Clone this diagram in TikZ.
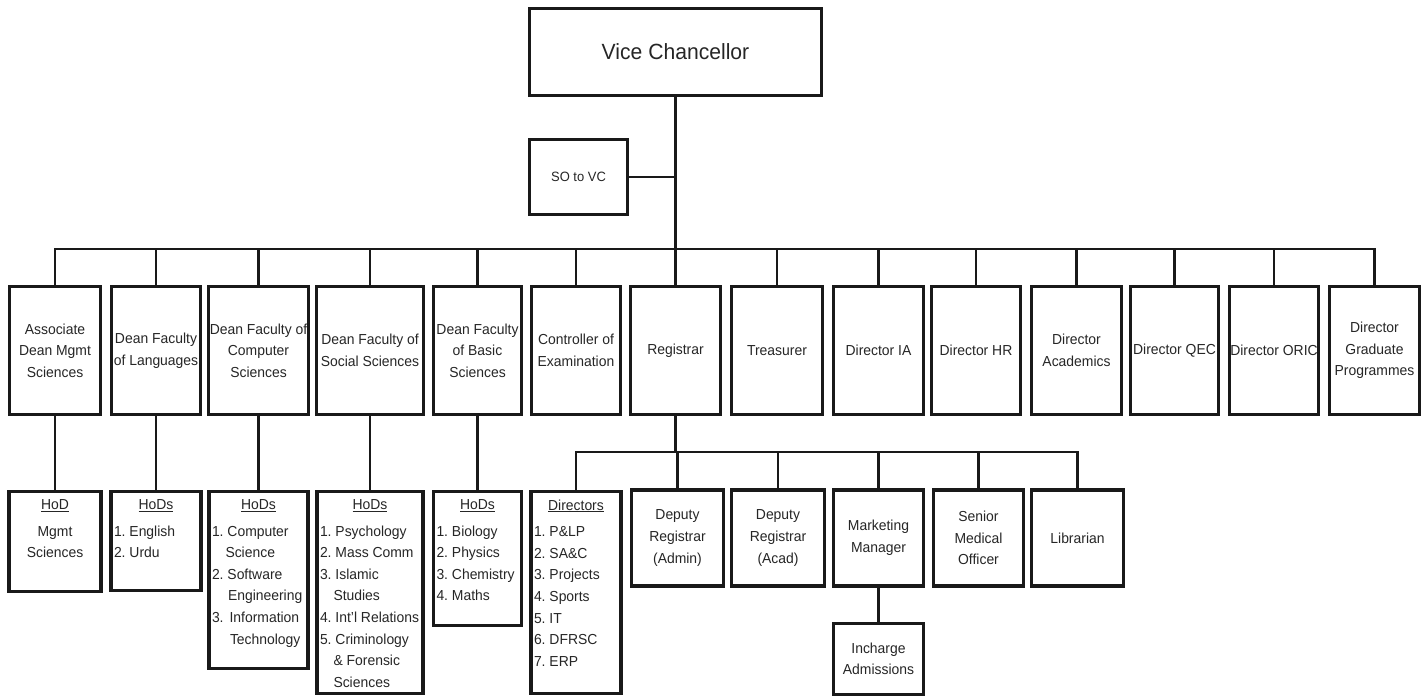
\documentclass[tikz,border=0pt]{standalone}
\usepackage{fontspec}
\setmainfont{Liberation Sans}[FakeStretch=0.96]
\frenchspacing
\newcommand\hdr[1]{{\centering\underline{#1}\par}\vspace{5pt}}
\newcommand\tbx[3]{\parbox[c][#2][t]{#1}{\vspace*{8pt}#3}}
\begin{document}
\frenchspacing
\begin{tikzpicture}[x=1pt,y=-1pt,
  box/.style={draw=black!90, line width=3.2pt, fill=white, inner xsep=3pt, inner ysep=0pt,
    align=center, text=black!85, font=\fontsize{14.5}{21.6}\selectfont\frenchspacing},
  conn/.style={draw=black!90, line width=2.8pt, line cap=rect}]
\useasboundingbox (0,0) rectangle (1427,698);
\fill[white] (0,0) rectangle (1427,698);

% top
\node[box, minimum width=292pt, minimum height=87pt, font=\fontsize{22}{26}\selectfont] (vc) at (675.5,52) {Vice Chancellor};
\node[box, minimum width=98pt, minimum height=75pt, font=\fontsize{13.5}{16}\selectfont] (so) at (578.5,177) {SO to VC};

% first row
\tikzset{r1/.style={box, minimum height=128pt, inner xsep=0.5pt}}
\node[r1, minimum width=91pt]  (a1)  at (55,350.5)    {Associate\\Dean Mgmt\\Sciences};
\node[r1, minimum width=89pt]  (a2)  at (156,350.5)   {Dean Faculty\\of Languages};
\node[r1, minimum width=100pt] (a3)  at (258.5,350.5) {Dean Faculty of\\Computer\\Sciences};
\node[r1, minimum width=107pt] (a4)  at (370,350.5)   {Dean Faculty of\\Social Sciences};
\node[r1, minimum width=88pt]  (a5)  at (477.5,350.5) {Dean Faculty\\of Basic\\Sciences};
\node[r1, minimum width=89pt]  (a6)  at (576,350.5)   {Controller of\\Examination};
\node[r1, minimum width=90pt]  (a7)  at (675.5,350.5) {Registrar};
\node[r1, minimum width=91pt]  (a8)  at (777,350.5)   {Treasurer};
\node[r1, minimum width=90pt]  (a9)  at (878.5,350.5) {Director IA};
\node[r1, minimum width=89pt]  (a10) at (976,350.5)   {Director HR};
\node[r1, minimum width=90pt]  (a11) at (1076.5,350.5) {Director\\Academics};
\node[r1, minimum width=88pt]  (a12) at (1174.5,350.5) {Director QEC};
\node[r1, minimum width=89pt]  (a13) at (1274,350.5)  {Director ORIC};
\node[r1, minimum width=90pt]  (a14) at (1374.5,350.5) {Director\\Graduate\\Programmes};

% faculty HoDs
\node[box, minimum width=92pt, minimum height=100pt] (h1) at (55,541.5)
  {\tbx{86pt}{100pt}{\hdr{HoD}{\centering Mgmt\\Sciences\par}}};
\node[box, minimum width=90pt, minimum height=99pt] (h2) at (156,541)
  {\tbx{84pt}{99pt}{\hdr{HoDs}\raggedright 1. English\\2. Urdu}};
\node[box, minimum width=99pt, minimum height=177pt] (h3) at (258.5,580)
  {\tbx{93pt}{177pt}{\hdr{HoDs}\raggedright 1. Computer\\\hspace*{13.5pt}Science\\2. Software\\\hspace*{16pt}Engineering\\3.\hspace{6pt}Information\\\hspace*{18pt}Technology}};
\node[box, minimum width=106pt, minimum height=202pt] (h4) at (370,592.5)
  {\tbx{100pt}{202pt}{\hdr{HoDs}\raggedright 1. Psychology\\2. Mass Comm\\3. Islamic\\\hspace*{13.5pt}Studies\\4. Int'l Relations\\5. Criminology\\\hspace*{13.5pt}\& Forensic\\\hspace*{13.5pt}Sciences}};
\node[box, minimum width=88pt, minimum height=134pt] (h5) at (477.5,558.5)
  {\tbx{82pt}{134pt}{\hdr{HoDs}\raggedright 1. Biology\\2. Physics\\3. Chemistry\\4. Maths}};

% registrar subordinates
\node[box, minimum width=90pt, minimum height=202pt] (d1) at (576,592.5)
  {\tbx{84pt}{202pt}{\hdr{Directors}\raggedright 1. P\&LP\\2. SA\&C\\3. Projects\\4. Sports\\5. IT\\6. DFRSC\\7. ERP}};
\tikzset{r2/.style={box, minimum height=96pt}}
\node[r2, minimum width=92pt] (d2) at (677.5,538) {Deputy\\Registrar\\(Admin)};
\node[r2, minimum width=93pt] (d3) at (778,538)   {Deputy\\Registrar\\(Acad)};
\node[r2, minimum width=90pt] (d4) at (878.5,538) {Marketing\\Manager};
\node[r2, minimum width=90pt] (d5) at (978.5,538) {Senior\\Medical\\Officer};
\node[r2, minimum width=92pt] (d6) at (1077.5,538) {Librarian};
\node[box, minimum width=90pt, minimum height=71pt] (inc) at (878.5,659) {Incharge\\Admissions};

% connectors
\coordinate (bus) at (0,249);
\coordinate (rbus) at (0,452);
\draw[conn] (vc.south) -- (vc.south |- bus);
\draw[conn] (so.east) -- (so.east -| vc.south);
\draw[conn] (a1.north |- bus) -- (a14.north |- bus);
\foreach \i in {1,...,14} \draw[conn] (a\i.north) -- (a\i.north |- bus);
\foreach \i in {1,...,5} \draw[conn] (a\i.south) -- (h\i.north);
\draw[conn] (a7.south) -- (a7.south |- rbus);
\draw[conn] (d1.north |- rbus) -- (d6.north |- rbus);
\foreach \i in {1,...,6} \draw[conn] (d\i.north) -- (d\i.north |- rbus);
\draw[conn] (d4.south) -- (inc.north);
\end{tikzpicture}
\end{document}
